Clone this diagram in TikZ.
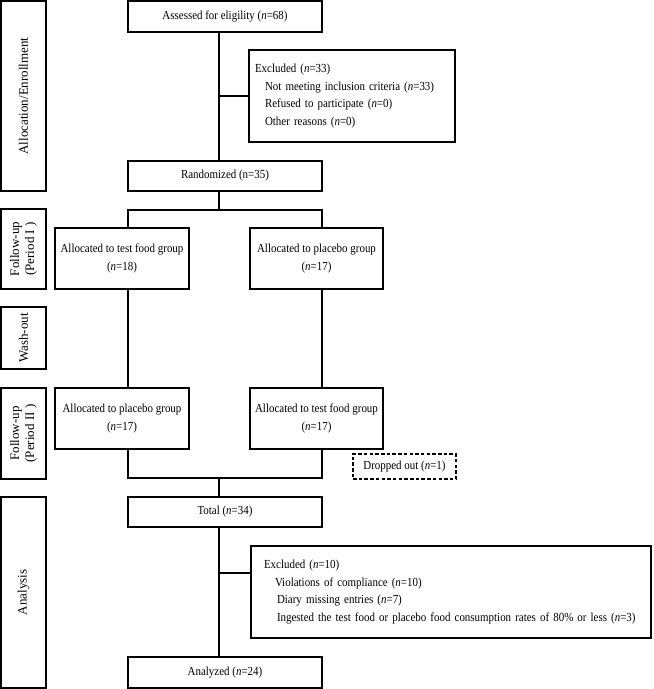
\documentclass[tikz,border=0pt]{standalone}
\usepackage{fontspec}
\setmainfont{Liberation Serif}[FakeStretch=0.89]
\newfontfamily\sidefont{Liberation Serif}
\begin{document}
\begin{tikzpicture}[x=1pt,y=-1pt,
  every node/.style={font=\fontsize{12.3}{17.5}\selectfont, inner sep=0pt},
  box/.style={draw, line width=1.3pt, align=center},
  side/.style={draw, line width=1.3pt, align=center, rotate=90, minimum height=45pt, font=\sidefont\fontsize{13}{15}\selectfont},
  conn/.style={line width=1.3pt},
  dashbox/.style={draw, line width=1.3pt, dash pattern=on 3.5pt off 2.2pt}]
\useasboundingbox (0,0) rectangle (654,689);
% sidebar
\node[side, minimum width=190pt] (s1) at (23.5,96) {Allocation/Enrollment};
\node[side, minimum width=80pt] (s2) at (23.5,249) {Follow-up\\(Period I~)};
\node[side, minimum width=62pt] (s3) at (23.5,338) {Wash-out};
\node[side, minimum width=91pt] (s4) at (23.5,433.5) {Follow-up\\(Period II~)};
\node[side, minimum width=191pt] (s5) at (23.5,592.5) {Analysis};
% main boxes
\node[box, minimum width=194pt, minimum height=31pt] (assess) at (225,16.5) {Assessed for eligility (\textit{n}=68)};
\node[box, minimum width=206pt, minimum height=92pt, text width=194pt, align=left] (excl1) at (352,96)
 {Excluded (\textit{n}=33)\\
  \hspace*{10pt}Not meeting inclusion criteria (\textit{n}=33)\\
  \hspace*{10pt}Refused to participate (\textit{n}=0)\\
  \hspace*{10pt}Other reasons (\textit{n}=0)};
\node[box, minimum width=194pt, minimum height=30pt] (rand) at (225,176) {Randomized (n=35)};
\node[box, minimum width=134pt, minimum height=61pt] (p1l) at (122,258.5) {Allocated to test food group\\(\textit{n}=18)};
\node[box, minimum width=133pt, minimum height=61pt] (p1r) at (316.5,258.5) {Allocated to placebo group\\(\textit{n}=17)};
\node[box, minimum width=134pt, minimum height=61pt] (p2l) at (122,418.5) {Allocated to placebo group\\(\textit{n}=17)};
\node[box, minimum width=133pt, minimum height=61pt] (p2r) at (316.5,418.5) {Allocated to test food group\\(\textit{n}=17)};
\node[dashbox, minimum width=103pt, minimum height=25pt] (drop) at (404.5,466.5) {Dropped out (\textit{n}=1)};
\node[box, minimum width=194pt, minimum height=30pt] (total) at (225,512) {Total (\textit{n}=34)};
\node[box, minimum width=400pt, minimum height=92pt, text width=388pt, align=left] (excl2) at (451,592)
 {\hspace*{7pt}Excluded (\textit{n}=10)\\
  \hspace*{18pt}Violations of compliance (\textit{n}=10)\\
  \hspace*{20pt}Diary missing entries (\textit{n}=7)\\
  \hspace*{20pt}Ingested the test food or placebo food consumption rates of 80\% or less (\textit{n}=3)};
\node[box, minimum width=194pt, minimum height=31pt] (anal) at (225,672.5) {Analyzed (\textit{n}=24)};
% connector coordinates
\coordinate (tx) at (219,0);
\coordinate (lx) at (128,0);
\coordinate (rx) at (322,0);
\coordinate (split1) at (219,210);
\coordinate (join2) at (219,478);
\coordinate (br2) at (219,573);
% connectors
\draw[conn] (assess.south -| tx) -- (rand.north -| tx);
\draw[conn] (excl1.west -| tx) -- (excl1.west);
\draw[conn] (rand.south -| tx) -- (split1);
\draw[conn] (p1l.north -| lx) -- (split1 -| lx) -- (split1 -| rx) -- (p1r.north -| rx);
\draw[conn] (p1l.south -| lx) -- (p2l.north -| lx);
\draw[conn] (p1r.south -| rx) -- (p2r.north -| rx);
\draw[conn] (p2l.south -| lx) -- (join2 -| lx) -- (join2 -| rx) -- (p2r.south -| rx);
\draw[conn] (join2) -- (total.north -| tx);
\draw[conn] (total.south -| tx) -- (anal.north -| tx);
\draw[conn] (br2) -- (br2 -| excl2.west);
\end{tikzpicture}
\end{document}
